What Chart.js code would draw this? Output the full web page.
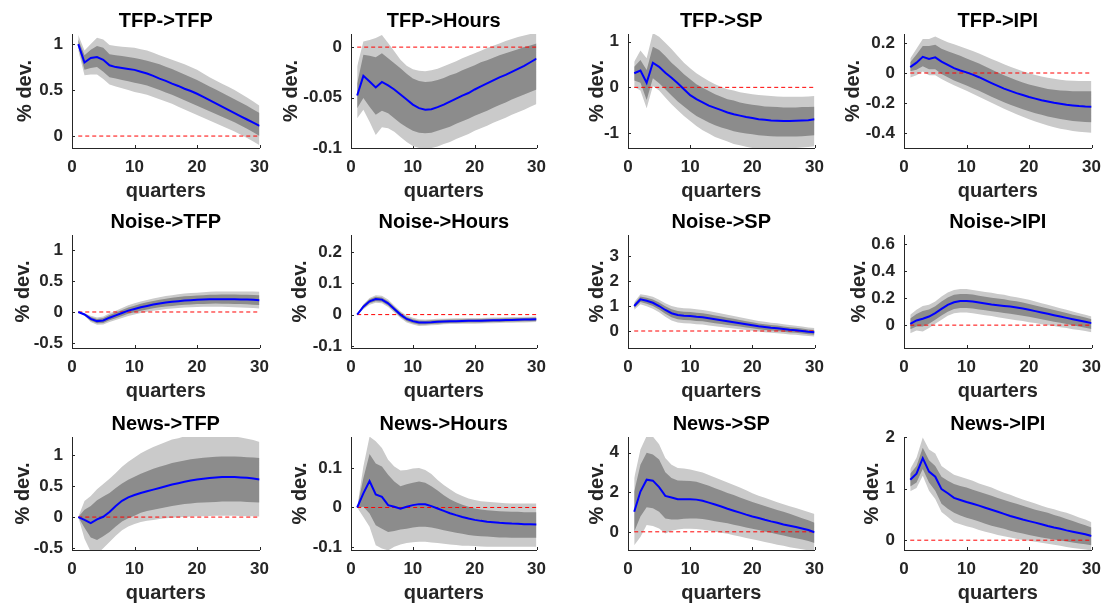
<!DOCTYPE html>
<html>
<head>
<meta charset="utf-8">
<script src="https://cdn.jsdelivr.net/npm/chart.js@4.4.0/dist/chart.umd.min.js"></script>
<style>
  html, body { margin: 0; padding: 0; background: #fff; }
  #wrap { position: relative; width: 1109px; height: 606px; overflow: hidden; }
  #wrap canvas { position: absolute; }
</style>
</head>
<body>
<div id="wrap"></div>
<script>
// quarters after the shock
const quarters = [1,2,3,4,5,6,7,8,9,10,11,12,13,14,15,16,17,18,19,20,21,22,23,24,25,26,27,28,29,30];

const titles = ["TFP->TFP", "TFP->Hours", "TFP->SP", "TFP->IPI",
                "Noise->TFP", "Noise->Hours", "Noise->SP", "Noise->IPI",
                "News->TFP", "News->Hours", "News->SP", "News->IPI"];

// y axis limits and tick labels per panel
const yLimits = [[-0.13, 1.11], [-0.1, 0.013], [-1.33, 1.17], [-0.5, 0.26],
                 [-0.58, 1.24], [-0.107, 0.255], [-0.68, 3.84], [-0.17, 0.67],
                 [-0.53, 1.29], [-0.108, 0.179], [-0.92, 4.8], [-0.19, 2.0]];
const yTicks = [[0, 0.5, 1], [-0.1, -0.05, 0], [-1, 0, 1], [-0.4, -0.2, 0, 0.2],
                [-0.5, 0, 0.5, 1], [-0.1, 0, 0.1, 0.2], [0, 1, 2, 3], [0, 0.2, 0.4, 0.6],
                [-0.5, 0, 0.5, 1], [-0.1, 0, 0.1], [0, 2, 4], [0, 1, 2]];
const xTicks = [0, 10, 20, 30];

// TFP -> TFP
const tfpTfpMid = [1.00,0.80,0.85,0.86,0.83,0.77,0.75,0.74,0.73,0.72,0.70,0.68,0.655,0.625,0.60,0.57,0.545,0.515,0.49,0.46,0.425,0.39,0.355,0.32,0.285,0.25,0.215,0.18,0.145,0.11];
const tfpTfpOutHi = [1.10,0.93,1.00,1.07,1.05,0.99,0.98,0.97,0.965,0.96,0.945,0.93,0.905,0.88,0.855,0.83,0.805,0.78,0.75,0.72,0.68,0.64,0.605,0.57,0.535,0.50,0.46,0.42,0.375,0.33];
const tfpTfpInHi = [1.05,0.88,0.94,0.98,0.96,0.89,0.88,0.87,0.86,0.85,0.835,0.82,0.80,0.78,0.755,0.73,0.70,0.67,0.64,0.61,0.575,0.54,0.505,0.47,0.435,0.40,0.365,0.33,0.29,0.25];
const tfpTfpInLo = [0.97,0.72,0.74,0.75,0.70,0.64,0.625,0.61,0.595,0.58,0.565,0.55,0.525,0.50,0.475,0.45,0.42,0.39,0.36,0.33,0.30,0.27,0.24,0.21,0.18,0.15,0.115,0.08,0.04,0.00];
const tfpTfpOutLo = [0.93,0.66,0.67,0.67,0.62,0.56,0.54,0.52,0.50,0.48,0.465,0.45,0.425,0.40,0.375,0.35,0.32,0.29,0.26,0.23,0.20,0.17,0.14,0.11,0.08,0.05,0.015,-0.02,-0.06,-0.10];

// TFP -> Hours
const tfpHoursMid = [-0.048,-0.0285,-0.034,-0.040,-0.0345,-0.038,-0.042,-0.047,-0.052,-0.057,-0.0605,-0.062,-0.0615,-0.0595,-0.057,-0.054,-0.051,-0.048,-0.0455,-0.042,-0.039,-0.036,-0.033,-0.030,-0.0275,-0.0245,-0.0215,-0.0185,-0.015,-0.0115];
const tfpHoursOutHi = [-0.019,0.0056,0.007,0.009,0.012,0.004,-0.004,-0.0125,-0.0185,-0.022,-0.0235,-0.024,-0.023,-0.0215,-0.019,-0.0165,-0.014,-0.011,-0.0085,-0.006,-0.0035,-0.001,0.0013,0.0036,0.006,0.008,0.010,0.0115,0.013,0.015];
const tfpHoursInHi = [-0.036,-0.0075,-0.0085,-0.010,-0.006,-0.011,-0.016,-0.021,-0.0265,-0.031,-0.0335,-0.0345,-0.034,-0.0325,-0.0305,-0.028,-0.026,-0.023,-0.0205,-0.018,-0.015,-0.013,-0.0105,-0.008,-0.006,-0.004,-0.002,0.0,0.0017,0.0036];
const tfpHoursInLo = [-0.0605,-0.0505,-0.059,-0.067,-0.063,-0.0655,-0.0705,-0.0755,-0.0795,-0.083,-0.085,-0.0855,-0.085,-0.083,-0.081,-0.079,-0.076,-0.0735,-0.071,-0.068,-0.0655,-0.063,-0.060,-0.0575,-0.055,-0.052,-0.0495,-0.047,-0.0445,-0.042];
const tfpHoursOutLo = [-0.0705,-0.062,-0.074,-0.087,-0.0795,-0.0805,-0.084,-0.089,-0.094,-0.098,-0.1,-0.101,-0.1,-0.0985,-0.096,-0.094,-0.091,-0.0885,-0.086,-0.083,-0.0805,-0.078,-0.075,-0.0725,-0.070,-0.067,-0.0645,-0.062,-0.059,-0.0565];

// TFP -> SP
const tfpSpMid = [0.31,0.37,0.10,0.54,0.45,0.32,0.21,0.09,-0.04,-0.17,-0.26,-0.33,-0.40,-0.45,-0.50,-0.55,-0.59,-0.62,-0.65,-0.67,-0.70,-0.71,-0.725,-0.73,-0.74,-0.74,-0.73,-0.725,-0.72,-0.70];
const tfpSpOutHi = [0.56,0.81,0.64,1.19,1.11,0.98,0.84,0.69,0.54,0.42,0.31,0.22,0.14,0.07,0.01,-0.04,-0.07,-0.11,-0.13,-0.15,-0.17,-0.18,-0.19,-0.20,-0.205,-0.205,-0.205,-0.205,-0.20,-0.19];
const tfpSpInHi = [0.45,0.60,0.38,0.89,0.82,0.69,0.54,0.42,0.29,0.18,0.07,-0.01,-0.08,-0.15,-0.205,-0.26,-0.29,-0.33,-0.36,-0.38,-0.40,-0.42,-0.425,-0.43,-0.44,-0.44,-0.44,-0.43,-0.43,-0.425];
const tfpSpInLo = [0.15,0.10,-0.28,0.20,0.09,-0.04,-0.18,-0.31,-0.42,-0.53,-0.63,-0.70,-0.77,-0.83,-0.88,-0.92,-0.96,-0.99,-1.01,-1.03,-1.05,-1.06,-1.07,-1.08,-1.08,-1.08,-1.08,-1.07,-1.06,-1.05];
const tfpSpOutLo = [0.01,-0.07,-0.46,0.03,-0.07,-0.22,-0.37,-0.50,-0.63,-0.74,-0.85,-0.94,-1.01,-1.09,-1.14,-1.19,-1.24,-1.27,-1.30,-1.33,-1.35,-1.36,-1.37,-1.37,-1.36,-1.35,-1.33,-1.32,-1.31,-1.29];

// TFP -> IPI
const tfpIpiMid = [0.039,0.069,0.108,0.093,0.104,0.076,0.054,0.032,0.017,0.004,-0.011,-0.028,-0.048,-0.067,-0.086,-0.104,-0.119,-0.134,-0.147,-0.16,-0.171,-0.182,-0.19,-0.199,-0.205,-0.212,-0.216,-0.22,-0.223,-0.225];
const tfpIpiOutHi = [0.097,0.162,0.227,0.227,0.244,0.223,0.205,0.192,0.177,0.162,0.147,0.13,0.112,0.093,0.076,0.058,0.041,0.026,0.011,-0.002,-0.013,-0.024,-0.032,-0.039,-0.045,-0.05,-0.052,-0.054,-0.054,-0.054];
const tfpIpiInHi = [0.071,0.123,0.18,0.18,0.188,0.162,0.145,0.13,0.115,0.097,0.08,0.063,0.043,0.024,0.004,-0.015,-0.032,-0.048,-0.063,-0.076,-0.086,-0.097,-0.106,-0.112,-0.117,-0.119,-0.121,-0.121,-0.121,-0.121];
const tfpIpiInLo = [0.011,0.022,0.045,0.025,0.025,-0.006,-0.028,-0.05,-0.067,-0.084,-0.102,-0.119,-0.138,-0.158,-0.177,-0.195,-0.212,-0.227,-0.242,-0.255,-0.268,-0.279,-0.29,-0.298,-0.307,-0.314,-0.32,-0.324,-0.326,-0.329];
const tfpIpiOutLo = [-0.03,-0.015,0.01,-0.015,-0.015,-0.04,-0.062,-0.082,-0.1,-0.119,-0.138,-0.158,-0.178,-0.198,-0.218,-0.238,-0.257,-0.275,-0.292,-0.308,-0.323,-0.337,-0.35,-0.361,-0.371,-0.379,-0.386,-0.391,-0.395,-0.398];

// Noise -> TFP
const noiseTfpMid = [0,-0.04,-0.11,-0.147,-0.136,-0.092,-0.054,-0.016,0.022,0.049,0.076,0.098,0.12,0.136,0.152,0.163,0.174,0.185,0.19,0.196,0.20,0.205,0.207,0.207,0.207,0.205,0.203,0.20,0.196,0.19];
const noiseTfpOutHi = [0,-0.02,-0.06,-0.087,-0.071,-0.022,0.021,0.064,0.107,0.139,0.169,0.194,0.219,0.238,0.257,0.271,0.284,0.297,0.304,0.311,0.317,0.324,0.328,0.33,0.332,0.332,0.332,0.331,0.329,0.325];
const noiseTfpInHi = [0,-0.028,-0.08,-0.111,-0.096,-0.05,-0.009,0.032,0.072,0.102,0.131,0.155,0.179,0.197,0.215,0.228,0.24,0.252,0.258,0.265,0.27,0.276,0.279,0.28,0.281,0.28,0.279,0.277,0.274,0.269];
const noiseTfpInLo = [0,-0.052,-0.14,-0.183,-0.176,-0.134,-0.099,-0.064,-0.028,-0.004,0.021,0.041,0.061,0.075,0.089,0.098,0.108,0.118,0.122,0.127,0.13,0.134,0.135,0.134,0.133,0.13,0.127,0.123,0.118,0.111];
const noiseTfpOutLo = [0,-0.06,-0.16,-0.207,-0.201,-0.162,-0.129,-0.096,-0.063,-0.041,-0.017,0.002,0.021,0.034,0.047,0.055,0.064,0.073,0.076,0.081,0.083,0.086,0.086,0.084,0.082,0.078,0.074,0.069,0.063,0.055];

// Noise -> Hours
const noiseHoursMid = [0,0.0255,0.0425,0.05,0.048,0.036,0.018,0.0,-0.014,-0.021,-0.0255,-0.0255,-0.0245,-0.023,-0.022,-0.0215,-0.021,-0.0205,-0.02,-0.02,-0.0195,-0.019,-0.0185,-0.018,-0.0175,-0.017,-0.0165,-0.016,-0.0155,-0.015];
const noiseHoursOutHi = [0,0.0335,0.0535,0.062,0.06,0.048,0.029,0.011,-0.003,-0.01,-0.0145,-0.0155,-0.0145,-0.013,-0.013,-0.0125,-0.012,-0.0115,-0.011,-0.011,-0.0105,-0.01,-0.0095,-0.009,-0.0085,-0.008,-0.0075,-0.007,-0.0065,-0.006];
const noiseHoursInHi = [0,0.0305,0.049,0.057,0.055,0.043,0.0245,0.0065,-0.0075,-0.0145,-0.019,-0.0195,-0.0185,-0.017,-0.0165,-0.016,-0.0155,-0.015,-0.0145,-0.0145,-0.014,-0.0135,-0.013,-0.0125,-0.012,-0.0115,-0.011,-0.0105,-0.01,-0.0095];
const noiseHoursInLo = [0,0.0205,0.036,0.043,0.041,0.029,0.0115,-0.0065,-0.0205,-0.0275,-0.032,-0.0315,-0.0305,-0.029,-0.0275,-0.027,-0.0265,-0.026,-0.0255,-0.0255,-0.025,-0.0245,-0.024,-0.0235,-0.023,-0.0225,-0.022,-0.0215,-0.021,-0.0205];
const noiseHoursOutLo = [0,0.0175,0.0315,0.038,0.036,0.024,0.007,-0.011,-0.025,-0.032,-0.0365,-0.0355,-0.0345,-0.033,-0.031,-0.0305,-0.03,-0.0295,-0.029,-0.029,-0.0285,-0.028,-0.0275,-0.027,-0.0265,-0.026,-0.0255,-0.025,-0.0245,-0.024];

// Noise -> SP
const noiseSpMid = [1.0,1.27,1.21,1.13,1.0,0.84,0.71,0.64,0.61,0.60,0.57,0.55,0.51,0.47,0.43,0.39,0.35,0.31,0.27,0.23,0.19,0.16,0.13,0.11,0.08,0.05,0.03,0.0,-0.03,-0.05];
const noiseSpOutHi = [1.15,1.47,1.43,1.37,1.25,1.11,1.0,0.94,0.91,0.90,0.87,0.84,0.80,0.75,0.70,0.65,0.60,0.55,0.50,0.45,0.40,0.37,0.33,0.31,0.27,0.24,0.21,0.18,0.14,0.12];
const noiseSpInHi = [1.08,1.38,1.33,1.26,1.14,0.99,0.87,0.805,0.775,0.765,0.735,0.71,0.67,0.625,0.58,0.535,0.49,0.44,0.395,0.35,0.305,0.275,0.24,0.22,0.185,0.155,0.13,0.10,0.065,0.045];
const noiseSpInLo = [0.92,1.16,1.09,1.0,0.86,0.69,0.55,0.475,0.445,0.435,0.405,0.39,0.35,0.315,0.28,0.245,0.21,0.18,0.145,0.11,0.075,0.045,0.02,0.0,-0.025,-0.055,-0.07,-0.1,-0.125,-0.145];
const noiseSpOutLo = [0.85,1.07,0.99,0.89,0.75,0.57,0.42,0.34,0.31,0.30,0.27,0.26,0.22,0.19,0.16,0.13,0.10,0.07,0.04,0.01,-0.02,-0.05,-0.07,-0.09,-0.11,-0.14,-0.15,-0.18,-0.2,-0.22];

// Noise -> IPI
const noiseIpiMid = [0.01,0.035,0.047,0.064,0.089,0.121,0.151,0.17,0.18,0.18,0.175,0.168,0.16,0.153,0.148,0.143,0.138,0.131,0.123,0.114,0.104,0.094,0.084,0.074,0.064,0.054,0.044,0.035,0.025,0.015];
const noiseIpiOutHi = [0.077,0.114,0.143,0.151,0.175,0.212,0.242,0.262,0.269,0.269,0.262,0.254,0.247,0.24,0.232,0.225,0.215,0.207,0.198,0.188,0.175,0.163,0.151,0.138,0.126,0.114,0.101,0.089,0.077,0.064];
const noiseIpiInHi = [0.05,0.083,0.105,0.116,0.14,0.176,0.205,0.225,0.232,0.232,0.227,0.219,0.211,0.204,0.198,0.192,0.184,0.177,0.168,0.158,0.146,0.135,0.124,0.113,0.101,0.09,0.078,0.067,0.056,0.044];
const noiseIpiInLo = [-0.03,-0.01,-0.01,0.01,0.04,0.072,0.1,0.12,0.128,0.128,0.124,0.117,0.11,0.103,0.097,0.091,0.085,0.078,0.07,0.062,0.053,0.044,0.035,0.026,0.017,0.008,-0.001,-0.01,-0.019,-0.028];
const noiseIpiOutLo = [-0.06,-0.04,-0.047,-0.022,0.01,0.04,0.069,0.089,0.094,0.094,0.089,0.081,0.074,0.067,0.059,0.052,0.044,0.037,0.03,0.022,0.015,0.007,0,-0.007,-0.015,-0.022,-0.03,-0.037,-0.044,-0.052];

// News -> TFP
const newsTfpMid = [0,-0.044,-0.098,-0.038,0.005,0.082,0.18,0.262,0.317,0.355,0.388,0.415,0.443,0.47,0.497,0.525,0.546,0.568,0.59,0.607,0.617,0.628,0.639,0.645,0.645,0.645,0.639,0.634,0.623,0.607];
const newsTfpOutHi = [0,0.26,0.34,0.45,0.535,0.617,0.71,0.81,0.89,0.96,1.03,1.08,1.13,1.17,1.21,1.25,1.27,1.3,1.31,1.32,1.33,1.33,1.33,1.32,1.31,1.3,1.28,1.26,1.24,1.21];
const newsTfpInHi = [0,0.12,0.18,0.27,0.33,0.39,0.47,0.54,0.6,0.65,0.7,0.74,0.78,0.81,0.84,0.87,0.89,0.91,0.93,0.945,0.955,0.965,0.97,0.975,0.975,0.975,0.97,0.965,0.96,0.95];
const newsTfpInLo = [0,-0.17,-0.33,-0.37,-0.31,-0.24,-0.15,-0.07,-0.02,0.02,0.07,0.1,0.12,0.14,0.16,0.18,0.195,0.21,0.22,0.23,0.235,0.24,0.245,0.25,0.25,0.25,0.25,0.245,0.24,0.235];
const newsTfpOutLo = [0,-0.35,-0.56,-0.6,-0.5,-0.4,-0.3,-0.21,-0.15,-0.11,-0.08,-0.06,-0.045,-0.03,-0.02,-0.01,-0.003,0.003,0.008,0.012,0.015,0.018,0.02,0.02,0.02,0.02,0.018,0.015,0.012,0.01];

// News -> Hours
const newsHoursMid = [0,0.036,0.067,0.033,0.027,0.006,0.002,-0.003,0.002,0.006,0.0085,0.008,0.0035,-0.0025,-0.0085,-0.0145,-0.0195,-0.024,-0.028,-0.0315,-0.034,-0.036,-0.0375,-0.039,-0.04,-0.041,-0.0415,-0.0425,-0.0425,-0.0435];
const newsHoursOutHi = [0,0.104,0.18,0.168,0.151,0.121,0.104,0.094,0.095,0.099,0.1,0.095,0.085,0.07,0.057,0.046,0.036,0.029,0.023,0.019,0.016,0.0145,0.013,0.012,0.011,0.01,0.01,0.01,0.01,0.01];
const newsHoursInHi = [0,0.074,0.136,0.112,0.104,0.083,0.066,0.054,0.059,0.063,0.066,0.063,0.054,0.043,0.031,0.021,0.013,0.007,0.002,-0.0025,-0.005,-0.007,-0.0085,-0.0095,-0.01,-0.011,-0.011,-0.012,-0.012,-0.012];
const newsHoursInLo = [0,0.002,-0.015,-0.045,-0.054,-0.062,-0.06,-0.056,-0.054,-0.051,-0.049,-0.049,-0.051,-0.054,-0.058,-0.061,-0.064,-0.067,-0.07,-0.0715,-0.073,-0.074,-0.075,-0.076,-0.076,-0.077,-0.077,-0.077,-0.077,-0.077];
const newsHoursOutLo = [0,-0.024,-0.049,-0.096,-0.104,-0.109,-0.1,-0.094,-0.09,-0.088,-0.087,-0.087,-0.089,-0.09,-0.092,-0.094,-0.095,-0.097,-0.097,-0.098,-0.099,-0.1,-0.1,-0.1,-0.1,-0.1,-0.1,-0.1,-0.1,-0.1];

// News -> SP
const newsSpMid = [1.02,2.04,2.64,2.59,2.26,1.82,1.74,1.65,1.65,1.65,1.63,1.57,1.48,1.38,1.28,1.17,1.07,0.97,0.87,0.78,0.70,0.61,0.53,0.46,0.37,0.31,0.24,0.17,0.09,-0.02];
const newsSpOutHi = [2.72,4.17,4.85,4.82,4.43,3.74,3.4,3.23,3.2,3.15,3.08,3.0,2.88,2.75,2.62,2.5,2.37,2.25,2.1,1.95,1.83,1.72,1.61,1.5,1.4,1.3,1.2,1.1,1.0,0.9];
const newsSpInHi = [2.04,3.4,4.0,3.91,3.66,3.01,2.72,2.6,2.59,2.57,2.54,2.43,2.33,2.21,2.09,1.97,1.86,1.74,1.62,1.51,1.41,1.31,1.21,1.11,1.01,0.91,0.8,0.69,0.58,0.46];
const newsSpInLo = [0.0,0.77,1.24,1.19,1.02,0.68,0.63,0.63,0.66,0.68,0.68,0.65,0.6,0.54,0.48,0.43,0.36,0.29,0.22,0.15,0.09,0.02,-0.05,-0.12,-0.19,-0.26,-0.32,-0.39,-0.46,-0.56];
const newsSpOutLo = [-0.68,-0.26,0.34,0.29,0.17,-0.09,0.05,0.12,0.15,0.15,0.14,0.1,0.05,0.0,-0.05,-0.1,-0.17,-0.24,-0.31,-0.37,-0.44,-0.51,-0.58,-0.65,-0.71,-0.78,-0.83,-0.88,-0.94,-0.97];

// News -> IPI
const newsIpiMid = [1.17,1.29,1.59,1.33,1.23,0.99,0.91,0.82,0.78,0.74,0.705,0.67,0.63,0.59,0.55,0.51,0.47,0.435,0.40,0.37,0.34,0.31,0.275,0.245,0.22,0.19,0.165,0.14,0.115,0.08];
const newsIpiOutHi = [1.38,1.6,1.99,1.76,1.68,1.44,1.35,1.27,1.23,1.19,1.15,1.1,1.06,1.02,0.97,0.92,0.88,0.83,0.79,0.75,0.71,0.67,0.63,0.6,0.56,0.53,0.49,0.44,0.4,0.35];
const newsIpiInHi = [1.29,1.44,1.79,1.55,1.44,1.23,1.15,1.09,1.05,1.02,0.98,0.94,0.9,0.86,0.82,0.78,0.74,0.705,0.67,0.63,0.59,0.56,0.53,0.49,0.455,0.41,0.37,0.33,0.29,0.245];
const newsIpiInLo = [1.04,1.12,1.38,1.12,0.96,0.705,0.61,0.53,0.48,0.435,0.4,0.36,0.32,0.28,0.25,0.22,0.185,0.155,0.13,0.1,0.077,0.051,0.032,0.013,-0.006,-0.026,-0.045,-0.064,-0.077,-0.096];
const newsIpiOutLo = [0.95,1.01,1.25,0.96,0.8,0.545,0.45,0.35,0.31,0.27,0.24,0.2,0.165,0.135,0.1,0.077,0.051,0.026,0.006,-0.013,-0.032,-0.051,-0.07,-0.09,-0.11,-0.13,-0.15,-0.165,-0.18,-0.2];

const mids   = [tfpTfpMid, tfpHoursMid, tfpSpMid, tfpIpiMid, noiseTfpMid, noiseHoursMid, noiseSpMid, noiseIpiMid, newsTfpMid, newsHoursMid, newsSpMid, newsIpiMid];
const outHis = [tfpTfpOutHi, tfpHoursOutHi, tfpSpOutHi, tfpIpiOutHi, noiseTfpOutHi, noiseHoursOutHi, noiseSpOutHi, noiseIpiOutHi, newsTfpOutHi, newsHoursOutHi, newsSpOutHi, newsIpiOutHi];
const inHis  = [tfpTfpInHi, tfpHoursInHi, tfpSpInHi, tfpIpiInHi, noiseTfpInHi, noiseHoursInHi, noiseSpInHi, noiseIpiInHi, newsTfpInHi, newsHoursInHi, newsSpInHi, newsIpiInHi];
const inLos  = [tfpTfpInLo, tfpHoursInLo, tfpSpInLo, tfpIpiInLo, noiseTfpInLo, noiseHoursInLo, noiseSpInLo, noiseIpiInLo, newsTfpInLo, newsHoursInLo, newsSpInLo, newsIpiInLo];
const outLos = [tfpTfpOutLo, tfpHoursOutLo, tfpSpOutLo, tfpIpiOutLo, noiseTfpOutLo, noiseHoursOutLo, noiseSpOutLo, noiseIpiOutLo, newsTfpOutLo, newsHoursOutLo, newsSpOutLo, newsIpiOutLo];

// layout of the 4x3 grid (plot area boxes)
const colLeft = [72, 351, 628, 904];
const colWidth = [190, 188, 189, 190];
const rowTop = [34, 235, 437];
const rowHeight = [114, 113, 113];
// distance of the "% dev." label centre from the y axis
const yLabelGap = [47, 60, 31, 51, 49, 51, 31, 45, 49, 51, 31, 32];

const FONT = '"Liberation Sans", Arial, Helvetica, sans-serif';
const LIGHT = "#cacaca";
const DARK = "#8c8c8c";
const AXIS = "#262626";

// small inward tick marks, like the original
const tickMarks = {
    id: "tickMarks",
    beforeDatasetsDraw(chart) {
        const ctx = chart.ctx;
        const xs = chart.scales.x, ys = chart.scales.y;
        const area = chart.chartArea;
        ctx.save();
        ctx.strokeStyle = AXIS;
        ctx.lineWidth = 1;
        ctx.beginPath();
        xs.ticks.forEach(t => {
            const px = Math.round(xs.getPixelForValue(t.value)) + 0.5;
            ctx.moveTo(px, area.bottom);
            ctx.lineTo(px, area.bottom - 3);
        });
        ys.ticks.forEach(t => {
            const py = Math.round(ys.getPixelForValue(t.value)) + 0.5;
            ctx.moveTo(area.left, py);
            ctx.lineTo(area.left + 3, py);
        });
        ctx.stroke();
        ctx.restore();
    }
};

// panel title centred over the plot area (as matlab does)
const panelTitle = {
    id: "panelTitle",
    afterDraw(chart, args, opts) {
        const ctx = chart.ctx;
        const area = chart.chartArea;
        ctx.save();
        ctx.font = "bold 20px " + FONT;
        ctx.fillStyle = "#000";
        ctx.textAlign = "center";
        ctx.textBaseline = "middle";
        ctx.fillText(opts.text, (area.left + area.right) / 2, area.top - 13);
        ctx.restore();
    }
};

const wrap = document.getElementById("wrap");
const LEFT = 72, TOP = 34, BOTTOM = 56, RIGHT = 16;
const hidden = "rgba(0,0,0,0)";

titles.forEach((title, i) => {
    const col = i % 4, row = Math.floor(i / 4);
    const cv = document.createElement("canvas");
    cv.width = LEFT + colWidth[col] + RIGHT;
    cv.height = TOP + rowHeight[row] + BOTTOM;
    cv.style.left = (colLeft[col] - LEFT) + "px";
    cv.style.top = (rowTop[row] - TOP) + "px";
    wrap.appendChild(cv);

    const pts = arr => quarters.map((q, k) => ({ x: q, y: arr[k] }));
    const zero = [{ x: quarters[0], y: 0 }, { x: quarters[quarters.length - 1], y: 0 }];

    new Chart(cv, {
        type: "line",
        data: {
            datasets: [
                { data: pts(mids[i]), borderColor: "#0000ff", borderWidth: 2 },
                { data: zero, borderColor: "#ff0000", borderWidth: 1, borderDash: [4, 3] },
                { data: pts(inHis[i]), borderColor: hidden, borderWidth: 0, fill: "+1", backgroundColor: DARK },
                { data: pts(inLos[i]), borderColor: hidden, borderWidth: 0 },
                { data: pts(outHis[i]), borderColor: hidden, borderWidth: 0, fill: "+1", backgroundColor: LIGHT },
                { data: pts(outLos[i]), borderColor: hidden, borderWidth: 0 }
            ]
        },
        options: {
            responsive: false,
            animation: false,
            layout: { padding: { left: 0, right: RIGHT, top: TOP, bottom: 0 } },
            elements: { point: { radius: 0 }, line: { tension: 0 } },
            plugins: {
                legend: { display: false },
                tooltip: { enabled: false },
                title: { display: false },
                panelTitle: { text: title }
            },
            scales: {
                x: {
                    type: "linear", min: 0, max: 30,
                    afterBuildTicks: s => { s.ticks = xTicks.map(v => ({ value: v })); },
                    afterFit: s => { s.height = BOTTOM; },
                    grid: { display: false, drawTicks: false },
                    border: { display: true, color: AXIS, width: 1 },
                    ticks: { color: AXIS, padding: 9, font: { family: FONT, size: 17, weight: "bold" } },
                    title: {
                        display: true, text: "quarters", color: AXIS,
                        font: { family: FONT, size: 20, weight: "bold" },
                        padding: { top: 0, bottom: 1 }
                    }
                },
                y: {
                    type: "linear", min: yLimits[i][0], max: yLimits[i][1],
                    afterBuildTicks: s => { s.ticks = yTicks[i].map(v => ({ value: v })); },
                    afterFit: s => { s.width = LEFT; },
                    grid: { display: false, drawTicks: false },
                    border: { display: true, color: AXIS, width: 1 },
                    ticks: { color: AXIS, padding: 9, font: { family: FONT, size: 17, weight: "bold" },
                             callback: v => String(v) },
                    title: {
                        display: true, text: "% dev.", color: AXIS,
                        font: { family: FONT, size: 20, weight: "bold" },
                        padding: { top: Math.max(0, 60 - yLabelGap[i]), bottom: 0 }
                    }
                }
            }
        },
        plugins: [tickMarks, panelTitle]
    });
});
</script>
</body>
</html>
